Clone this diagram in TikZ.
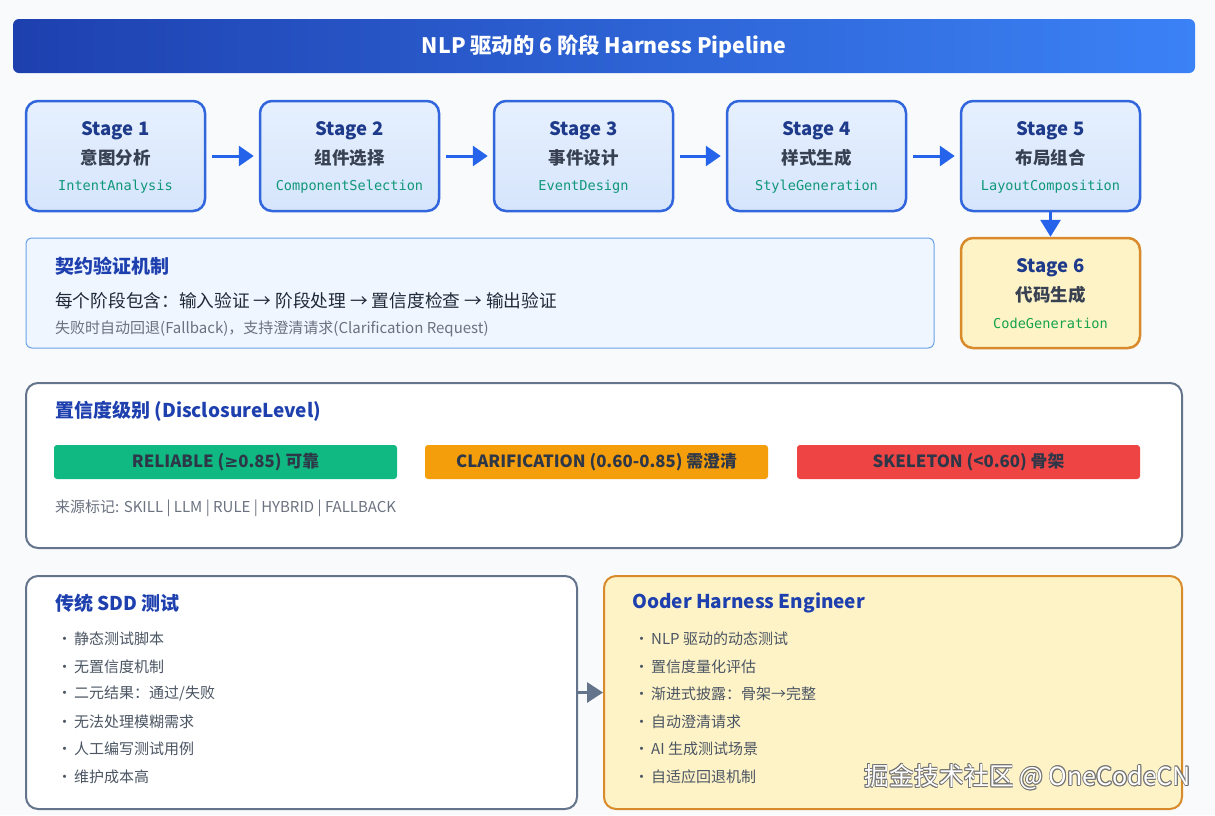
\documentclass[tikz,border=0pt]{standalone}
\usepackage{fontspec}
\setmainfont{Noto Sans CJK SC}
\newfontfamily\monofont{DejaVu Sans Mono}
\newfontfamily\symfont{DejaVu Sans}
\usetikzlibrary{arrows.meta}
\definecolor{bgc}{HTML}{F8FAFC}
\definecolor{titleL}{HTML}{1E40AF}
\definecolor{titleR}{HTML}{3B82F6}
\definecolor{stageborder}{HTML}{3166DC}
\definecolor{stagetop}{HTML}{E6F0FE}
\definecolor{stagebot}{HTML}{D6E5FC}
\definecolor{navy}{HTML}{1E3A8A}
\definecolor{headblue}{HTML}{1E40AF}
\definecolor{darkgray}{HTML}{374151}
\definecolor{teal}{HTML}{10977A}
\definecolor{greenc}{HTML}{16A34A}
\definecolor{arrowblue}{HTML}{2563EB}
\definecolor{sixfill}{HTML}{FEF3C7}
\definecolor{sixborder}{HTML}{D98A2B}
\definecolor{contractfill}{HTML}{EFF6FF}
\definecolor{contractborder}{HTML}{6AA2E6}
\definecolor{slate}{HTML}{64748B}
\definecolor{barg}{HTML}{10B981}
\definecolor{baro}{HTML}{F59E0B}
\definecolor{barr}{HTML}{EF4444}
\definecolor{bartext}{HTML}{2D3748}
\definecolor{bodytext}{HTML}{1F2937}
\definecolor{graytext}{HTML}{6B7280}
\definecolor{bullettext}{HTML}{4B5563}
\begin{document}
\begin{tikzpicture}[x=1pt,y=-1pt,
  stagebox/.style={draw=stageborder, line width=2.5pt, rounded corners=12pt, top color=stagetop, bottom color=stagebot, minimum width=179pt, minimum height=110pt, inner sep=0pt},
  sixbox/.style={draw=sixborder, line width=2.5pt, rounded corners=12pt, fill=sixfill, minimum width=179pt, minimum height=110pt, inner sep=0pt},
  sttitle/.style={font=\fontsize{18.5}{22}\selectfont\bfseries, text=navy, inner sep=0pt},
  stcn/.style={font=\fontsize{17.5}{20}\selectfont\bfseries, text=darkgray, inner sep=0pt},
  stcode/.style={font=\monofont\fontsize{13.6}{16}\selectfont, text=teal, inner sep=0pt},
  sarrow/.style={draw=arrowblue, line width=3pt, -{Triangle[length=15pt,width=20pt]}},
  heading/.style={font=\fontsize{19}{23}\selectfont\bfseries, text=headblue, anchor=west, inner sep=0pt},
  bigbox/.style={draw=slate, line width=2pt, rounded corners=12pt, fill=white, inner sep=0pt},
  bar/.style={rounded corners=3pt, minimum width=343pt, minimum height=34pt, inner sep=0pt, text=bartext, font=\fontsize{16.8}{20}\selectfont\bfseries},
  bullet/.style={font=\fontsize{15}{18}\selectfont, text=bullettext, anchor=west, inner sep=0pt},
  wm/.style={font=\fontsize{25}{30}\selectfont, inner sep=0pt}
]
\useasboundingbox (0,0) rectangle (1215,815);
\fill[bgc] (0,0) rectangle (1215,815);

% title
\node[rounded corners=6pt, left color=titleL, right color=titleR, minimum width=1182pt, minimum height=54pt, inner sep=0pt,
      text=white, font=\fontsize{21.3}{25}\selectfont\bfseries] (title) at (604,46) {NLP 驱动的 6 阶段 Harness Pipeline};

% stages
\node[stagebox] (s1) at (115.5,156) {};
\node[stagebox] (s2) at (349.5,156) {};
\node[stagebox] (s3) at (583.5,156) {};
\node[stagebox] (s4) at (816.5,156) {};
\node[stagebox] (s5) at (1050.5,156) {};
\node[sixbox]   (s6) at (1050.5,293) {};

\node[sttitle] (s1a) at ([yshift=25pt]s1.center) {Stage 1};
\node[stcn]    (s1b) at ([yshift=-1.5pt]s1.center) {意图分析};
\node[stcode]  (s1c) at ([yshift=-30.5pt]s1.center) {IntentAnalysis};
\node[sttitle] (s2a) at ([yshift=25pt]s2.center) {Stage 2};
\node[stcn]    (s2b) at ([yshift=-1.5pt]s2.center) {组件选择};
\node[stcode]  (s2c) at ([yshift=-30.5pt]s2.center) {ComponentSelection};
\node[sttitle] (s3a) at ([yshift=25pt]s3.center) {Stage 3};
\node[stcn]    (s3b) at ([yshift=-1.5pt]s3.center) {事件设计};
\node[stcode]  (s3c) at ([yshift=-30.5pt]s3.center) {EventDesign};
\node[sttitle] (s4a) at ([yshift=25pt]s4.center) {Stage 4};
\node[stcn]    (s4b) at ([yshift=-1.5pt]s4.center) {样式生成};
\node[stcode]  (s4c) at ([yshift=-30.5pt]s4.center) {StyleGeneration};
\node[sttitle] (s5a) at ([yshift=25pt]s5.center) {Stage 5};
\node[stcn]    (s5b) at ([yshift=-1.5pt]s5.center) {布局组合};
\node[stcode]  (s5c) at ([yshift=-30.5pt]s5.center) {LayoutComposition};
\node[sttitle] (s6a) at ([yshift=25pt]s6.center) {Stage 6};
\node[stcn]    (s6b) at ([yshift=-1.5pt]s6.center) {代码生成};
\node[stcode, text=greenc] (s6c) at ([yshift=-30.5pt]s6.center) {CodeGeneration};

\draw[sarrow, shorten <=6pt, shorten >=5pt] (s1.east) -- (s2.west);
\draw[sarrow, shorten <=6pt, shorten >=5pt] (s2.east) -- (s3.west);
\draw[sarrow, shorten <=6pt, shorten >=5pt] (s3.east) -- (s4.west);
\draw[sarrow, shorten <=6pt, shorten >=5pt] (s4.east) -- (s5.west);
\draw[sarrow, shorten <=0pt, shorten >=0pt, -{Triangle[length=17pt,width=20pt]}] (s5.south) -- (s6.north);

% contract box
\node[draw=contractborder, line width=1pt, rounded corners=6pt, fill=contractfill, minimum width=908pt, minimum height=110pt, inner sep=0pt] (cb) at (480,293) {};
\node[heading] (cbh) at (55,266) {契约验证机制};
\node[anchor=west, inner sep=0pt, text=bodytext, font=\fontsize{17.7}{21}\selectfont] (cbl1) at (55,301) {每个阶段包含：输入验证 → 阶段处理 → 置信度检查 → 输出验证};
\node[anchor=west, inner sep=0pt, text=graytext, font=\fontsize{15}{18}\selectfont] (cbl2) at (55,329) {失败时自动回退(Fallback)，支持澄清请求(Clarification Request)};

% confidence box
\node[bigbox, minimum width=1156pt, minimum height=165pt] (conf) at (604,465.5) {};
\node[heading] (confh) at (55,411) {置信度级别 (DisclosureLevel)};
\node[bar, fill=barg] (b1) at (225.5,462) {RELIABLE ({\symfont\bfseries ≥}0.85) 可靠};
\node[bar, fill=baro] (b2) at (596.5,462) {CLARIFICATION (0.60-0.85) 需澄清};
\node[bar, fill=barr] (b3) at (968.5,462) {SKELETON (<0.60) 骨架};
\node[anchor=west, inner sep=0pt, text=graytext, font=\fontsize{15}{18}\selectfont] (src) at (55,508) {来源标记: SKILL | LLM | RULE | HYBRID | FALLBACK};

% bottom boxes
\node[bigbox, minimum width=551pt, minimum height=233pt] (bl) at (301.5,692.5) {};
\node[bigbox, draw=sixborder, fill=sixfill, minimum width=578pt, minimum height=233pt] (br) at (893,692.5) {};
\draw[draw=slate, line width=3pt, -{Triangle[length=16pt,width=20pt]}] (bl.east) -- (br.west);

\node[heading] (blh) at (55,603) {传统 SDD 测试};
\node[bullet] (bl1) at (57,639) {·\hspace{2pt}静态测试脚本};
\node[bullet] (bl2) at (57,666.5) {·\hspace{2pt}无置信度机制};
\node[bullet] (bl3) at (57,694) {·\hspace{2pt}二元结果：通过/失败};
\node[bullet] (bl4) at (57,721.5) {·\hspace{2pt}无法处理模糊需求};
\node[bullet] (bl5) at (57,749) {·\hspace{2pt}人工编写测试用例};
\node[bullet] (bl6) at (57,776.5) {·\hspace{2pt}维护成本高};

\node[heading] (brh) at (632,603) {Ooder Harness Engineer};
\node[bullet] (br1) at (634,639) {·\hspace{2pt}NLP 驱动的动态测试};
\node[bullet] (br2) at (634,666.5) {·\hspace{2pt}置信度量化评估};
\node[bullet] (br3) at (634,694) {·\hspace{2pt}渐进式披露：骨架→完整};
\node[bullet] (br4) at (634,721.5) {·\hspace{2pt}自动澄清请求};
\node[bullet] (br5) at (634,749) {·\hspace{2pt}AI 生成测试场景};
\node[bullet] (br6) at (634,776.5) {·\hspace{2pt}自适应回退机制};

% watermark
\foreach \dx/\dy [count=\i] in {0.8/0,-0.8/0,0/0.8,0/-0.8,0.55/0.55,-0.55/0.55,0.55/-0.55,-0.55/-0.55}
  \node[wm, text=black!55] (wmo\i) at (1027.5+\dx,777+\dy) {掘金技术社区 @ OneCodeCN};
\node[wm, text=white] (wm) at (1027.5,777) {掘金技术社区 @ OneCodeCN};
\end{tikzpicture}
\end{document}
